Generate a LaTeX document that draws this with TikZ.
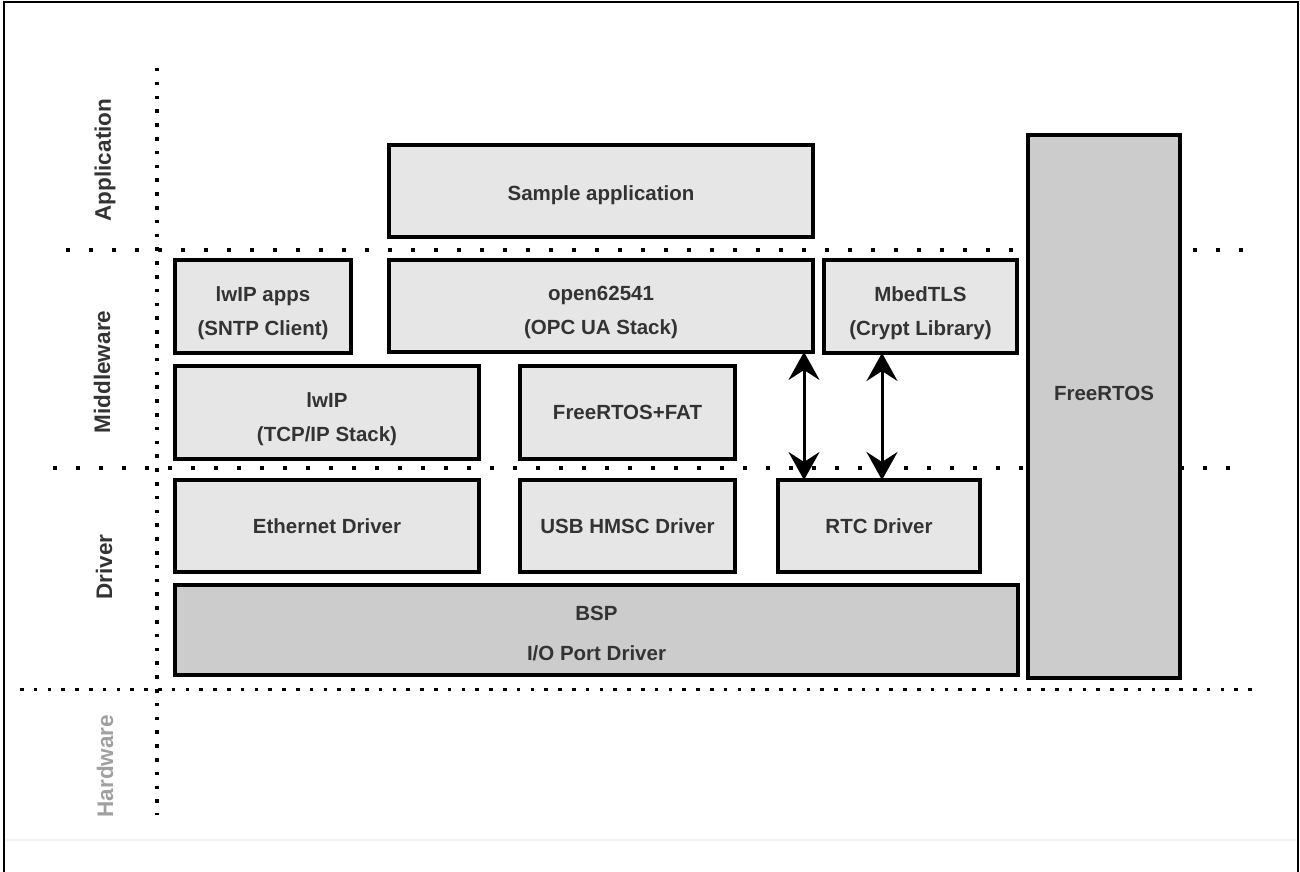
\documentclass[tikz,border=0pt]{standalone}
\usepackage{fontspec}
\setmainfont{Liberation Sans}
\usetikzlibrary{arrows.meta}
\definecolor{txt}{RGB}{51,51,51}
\definecolor{lfill}{RGB}{230,230,230}
\definecolor{dfill}{RGB}{204,204,204}
\definecolor{hwgray}{RGB}{160,160,160}
\newcommand\topstrut[1]{\rule{0pt}{#1}}
\begin{document}
\begin{tikzpicture}[x=1pt,y=-1pt,
  box/.style={draw=black, line width=3.5pt, fill=lfill, text=txt,
    font=\fontsize{20.5}{34}\selectfont\bfseries, align=center,
    inner sep=0pt, outer sep=0pt, text depth=0pt},
  dbox/.style={box, fill=dfill},
  layer/.style={text=txt, font=\fontsize{22.5}{27}\selectfont\bfseries,
    rotate=90, inner sep=0pt},
  sepwide/.style={line width=3.5pt, dash pattern=on 3.5pt off 19.5pt},
  sepnarrow/.style={line width=3.5pt, dash pattern=on 3.5pt off 10.3pt},
  arr/.style={line width=3pt,
    {Stealth[length=28pt,width=31pt,inset=10pt]}-{Stealth[length=28pt,width=31pt,inset=10pt]}}
]
\useasboundingbox (0,0) rectangle (1300,872);
% frame
\draw[line width=2.5pt] (4,880) -- (4,2) -- (1298,2) -- (1298,880);
\draw[black!5, line width=1.5pt] (6,840) -- (1296,840);

% separators
\draw[sepnarrow] (157,68) -- (157,815);
\draw[sepwide] (66,250) -- (1245,250);
\draw[sepwide] (53,468) -- (1230,468);
\draw[sepnarrow] (20,689.5) -- (1254,689.5);

% layer labels
\node[layer] (lapp) at (105,160) {Application};
\node[layer] (lmid) at (102,372) {Middleware};
\node[layer] (ldrv) at (104,567) {Driver};
\node[layer, text=hwgray] (lhw) at (105,766) {Hardware};

% boxes
\node[box, minimum width=424pt, minimum height=92pt] (sample) at (601,191) {\topstrut{18pt}Sample application};
\node[box, minimum width=176pt, minimum height=93pt] (lwipapps) at (263,306.5) {\topstrut{23pt}lwIP apps\\(SNTP Client)};
\node[box, minimum width=424pt, minimum height=92pt] (open) at (601,306) {\topstrut{23pt}open62541\\(OPC UA Stack)};
\node[box, minimum width=193pt, minimum height=93pt] (mbed) at (920.5,306.5) {\topstrut{23pt}MbedTLS\\(Crypt Library)};
\node[dbox, minimum width=152pt, minimum height=543pt, text depth=27pt] (rtos) at (1104,406.5) {FreeRTOS};
\node[box, minimum width=304pt, minimum height=93pt] (lwip) at (327,412.5) {\topstrut{23pt}lwIP\\(TCP/IP Stack)};
\node[box, minimum width=215pt, minimum height=93pt] (fat) at (627.5,412.5) {FreeRTOS+FAT};
\node[box, minimum width=304pt, minimum height=92pt] (eth) at (327,526) {Ethernet Driver};
\node[box, minimum width=215pt, minimum height=92pt] (usb) at (627.5,526) {USB HMSC Driver};
\node[box, minimum width=202pt, minimum height=92pt] (rtc) at (879,526) {RTC Driver};
\node[dbox, minimum width=843pt, minimum height=90pt, font=\fontsize{20.5}{40}\selectfont\bfseries] (bsp) at (596.5,630) {\topstrut{21pt}BSP\\I/O Port Driver};

% arrows
\coordinate (a1) at (804,0);
\coordinate (a2) at (882,0);
\draw[arr] (open.south -| a1) -- (rtc.north -| a1);
\draw[arr] (mbed.south -| a2) -- (rtc.north -| a2);
\end{tikzpicture}
\end{document}
